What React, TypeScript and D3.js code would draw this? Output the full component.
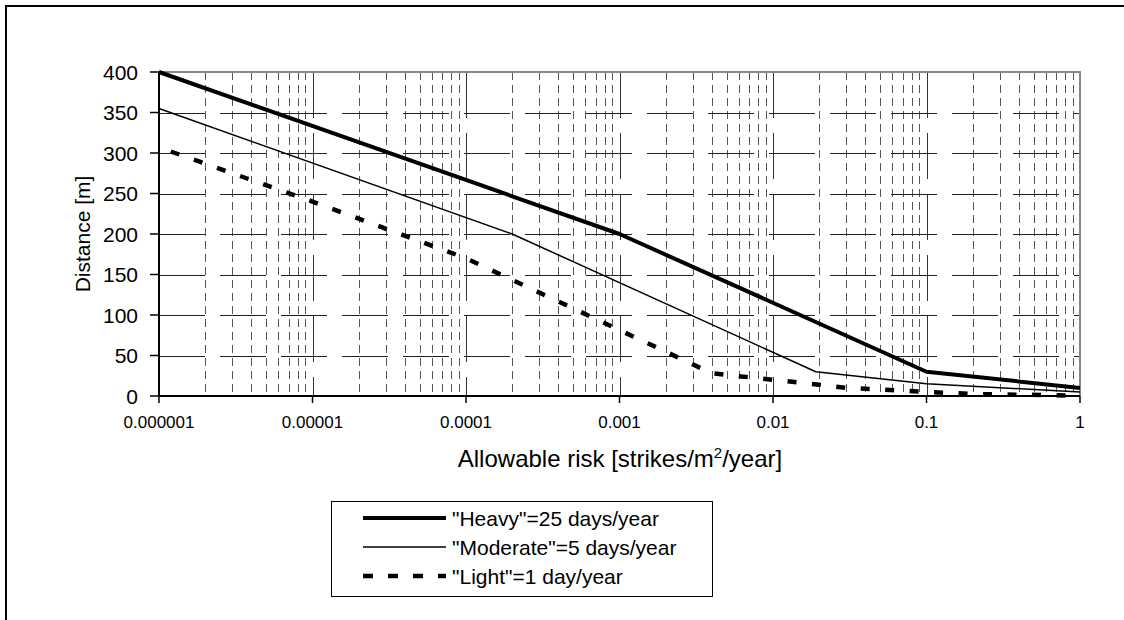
import { useEffect, useRef } from 'react';
import * as d3 from 'd3';

// risk decades on the x axis
const xTicks = [1e-6, 1e-5, 1e-4, 1e-3, 1e-2, 1e-1, 1];
const xTickLabels = ['0.000001', '0.00001', '0.0001', '0.001', '0.01', '0.1', '1'];
const yTicks = [0, 50, 100, 150, 200, 250, 300, 350, 400];

// "Heavy" = 25 days/year
const heavyRisk = [1e-6, 1e-3, 0.1, 1];
const heavyDist = [400, 200, 30, 10];

// "Moderate" = 5 days/year
const moderateRisk = [1e-6, 2e-4, 0.019, 0.1, 1];
const moderateDist = [355, 200, 30, 15, 5];

// "Light" = 1 day/year
const lightRisk = [1e-6, 1e-5, 1e-4, 0.004, 0.01, 0.02, 0.03, 0.05, 0.1, 0.2, 1];
const lightDist = [307, 240, 170, 28, 20, 14, 10, 8, 5, 2.5, 0.5];

const seriesNames = ['"Heavy"=25 days/year', '"Moderate"=5 days/year', '"Light"=1 day/year'];

const W = 1124;
const H = 620;
const FONT = '"Liberation Sans", Arial, sans-serif';

export default function App() {
  const svgRef = useRef<SVGSVGElement>(null);

  useEffect(() => {
    if (!svgRef.current) return;
    const svg = d3.select(svgRef.current);
    svg.selectAll('*').remove();

    const plot = { left: 159, right: 1080, top: 72, bottom: 396 };

    const x = d3.scaleLog().domain([1e-6, 1]).range([plot.left, plot.right]);
    const y = d3.scaleLinear().domain([0, 400]).range([plot.bottom, plot.top]);

    // outer chart frame
    svg.append('rect')
      .attr('x', 6).attr('y', 6)
      .attr('width', W + 10).attr('height', H + 10)
      .attr('fill', 'white')
      .attr('stroke', '#000')
      .attr('stroke-width', 2);

    // minor vertical gridlines
    const minor: number[] = [];
    xTicks.slice(0, -1).forEach(d => {
      for (let k = 2; k <= 9; k++) minor.push(d * k);
    });
    svg.append('g').selectAll('line')
      .data(minor)
      .join('line')
      .attr('x1', d => Math.round(x(d)) + 0.5)
      .attr('x2', d => Math.round(x(d)) + 0.5)
      .attr('y1', plot.top)
      .attr('y2', plot.bottom)
      .attr('stroke', '#555')
      .attr('stroke-width', 1)
      .attr('stroke-dasharray', '8,5');

    // major vertical gridlines
    svg.append('g').selectAll('line')
      .data(xTicks.slice(1, -1))
      .join('line')
      .attr('x1', d => Math.round(x(d)) + 0.5)
      .attr('x2', d => Math.round(x(d)) + 0.5)
      .attr('y1', plot.top)
      .attr('y2', plot.bottom)
      .attr('stroke', '#333')
      .attr('stroke-width', 1)
      .attr('stroke-dasharray', '46,15');

    // horizontal gridlines
    svg.append('g').selectAll('line')
      .data(yTicks.slice(1, -1))
      .join('line')
      .attr('x1', plot.left)
      .attr('x2', plot.right)
      .attr('y1', d => Math.round(y(d)) + 0.5)
      .attr('y2', d => Math.round(y(d)) + 0.5)
      .attr('stroke', '#222')
      .attr('stroke-width', 1)
      .attr('stroke-dasharray', '46,15');

    // top and right plot border
    svg.append('path')
      .attr('d', `M${plot.left},${plot.top}H${plot.right}V${plot.bottom}`)
      .attr('fill', 'none')
      .attr('stroke', '#888')
      .attr('stroke-width', 2);

    // series
    const line = d3.line<[number, number]>()
      .x(d => x(d[0]))
      .y(d => y(d[1]));

    const zip = (a: number[], b: number[]) => a.map((v, i) => [v, b[i]] as [number, number]);

    const styles = [
      { width: 4, dash: null as string | null, offset: 0 },
      { width: 1.5, dash: null as string | null, offset: 0 },
      { width: 4.5, dash: '9,15.5', offset: 12 },
    ];

    const series = [
      zip(heavyRisk, heavyDist),
      zip(moderateRisk, moderateDist),
      zip(lightRisk, lightDist),
    ];

    series.forEach((s, i) => {
      svg.append('path')
        .datum(s)
        .attr('fill', 'none')
        .attr('stroke', '#000')
        .attr('stroke-width', styles[i].width)
        .attr('stroke-linejoin', 'round')
        .attr('stroke-dasharray', styles[i].dash)
        .attr('stroke-dashoffset', styles[i].offset)
        .attr('d', line);
    });

    // axes
    svg.append('line')
      .attr('x1', plot.left).attr('x2', plot.left)
      .attr('y1', plot.top).attr('y2', plot.bottom)
      .attr('stroke', '#000').attr('stroke-width', 2);
    svg.append('line')
      .attr('x1', plot.left).attr('x2', plot.right)
      .attr('y1', plot.bottom).attr('y2', plot.bottom)
      .attr('stroke', '#000').attr('stroke-width', 2);

    svg.append('g').selectAll('line')
      .data(yTicks)
      .join('line')
      .attr('x1', plot.left - 9).attr('x2', plot.left)
      .attr('y1', d => y(d)).attr('y2', d => y(d))
      .attr('stroke', '#000').attr('stroke-width', 1.5);

    svg.append('g').selectAll('line')
      .data(xTicks)
      .join('line')
      .attr('x1', d => x(d)).attr('x2', d => x(d))
      .attr('y1', plot.bottom).attr('y2', plot.bottom + 7)
      .attr('stroke', '#000').attr('stroke-width', 1.5);

    // tick labels
    svg.append('g').selectAll('text')
      .data(yTicks)
      .join('text')
      .attr('x', 138)
      .attr('y', d => y(d))
      .attr('dy', '0.36em')
      .attr('text-anchor', 'end')
      .style('font-family', FONT)
      .style('font-size', '21px')
      .text(d => d);

    svg.append('g').selectAll('text')
      .data(xTicks)
      .join('text')
      .attr('x', d => x(d))
      .attr('y', 428)
      .attr('text-anchor', 'middle')
      .style('font-family', FONT)
      .style('font-size', '17px')
      .text((d, i) => xTickLabels[i]);

    // axis titles
    const xt = svg.append('text')
      .attr('x', 620)
      .attr('y', 467)
      .attr('text-anchor', 'middle')
      .style('font-family', FONT)
      .style('font-size', '24px');
    xt.append('tspan').text('Allowable risk [strikes/m');
    xt.append('tspan').attr('dy', -9).style('font-size', '15px').text('2');
    xt.append('tspan').attr('dy', 9).text('/year]');

    svg.append('text')
      .attr('transform', `translate(90,${(plot.top + plot.bottom) / 2}) rotate(-90)`)
      .attr('text-anchor', 'middle')
      .style('font-family', FONT)
      .style('font-size', '21px')
      .text('Distance [m]');

    // legend
    const lg = svg.append('g');
    lg.append('rect')
      .attr('x', 331.5).attr('y', 501.5)
      .attr('width', 381).attr('height', 95)
      .attr('fill', 'white')
      .attr('stroke', '#000')
      .attr('stroke-width', 1);

    seriesNames.forEach((name, i) => {
      const ry = 518 + i * 29;
      lg.append('line')
        .attr('x1', 363).attr('x2', 446)
        .attr('y1', ry).attr('y2', ry)
        .attr('stroke', '#000')
        .attr('stroke-width', styles[i].width)
        .attr('stroke-dasharray', styles[i].dash ? '10,15' : null);
      lg.append('text')
        .attr('x', 452)
        .attr('y', ry)
        .attr('dy', '0.36em')
        .style('font-family', FONT)
        .style('font-size', '21px')
        .text(name);
    });
  }, []);

  return (
    <svg
      ref={svgRef}
      width={W}
      height={H}
      style={{ position: 'absolute', left: 0, top: 0, background: 'white' }}
    />
  );
}
